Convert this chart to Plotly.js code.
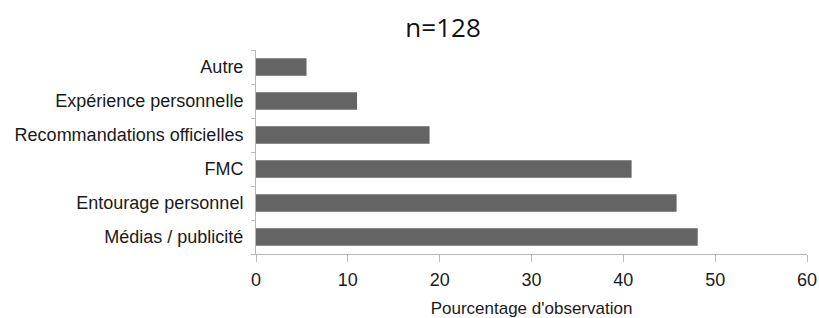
<!DOCTYPE html>
<html>
<head>
<meta charset="utf-8">
<script src="https://cdn.plot.ly/plotly-3.0.1.min.js"></script>
<style>html,body{margin:0;padding:0;background:#fff;}#chart{width:819px;height:318px;}</style>
</head>
<body>
<div id="chart"></div>
<script>
// Categories listed bottom to top
var categories = ['Médias / publicité', 'Entourage personnel', 'FMC', 'Recommandations officielles', 'Expérience personnelle', 'Autre'];
var percentages = [48.1, 45.8, 40.9, 18.9, 11.0, 5.5];
var xTickValues = [0, 10, 20, 30, 40, 50, 60];
var chartTitle = 'n=128';
var xAxisTitle = "Pourcentage d'observation";

var trace = {
  type: 'bar',
  orientation: 'h',
  x: percentages,
  y: categories,
  marker: {color: '#646464'},
  hoverinfo: 'x+y'
};

var layout = {
  width: 819,
  height: 318,
  margin: {l: 256, r: 12, t: 50, b: 64, pad: 0},
  paper_bgcolor: '#ffffff',
  plot_bgcolor: '#ffffff',
  bargap: 0.48,
  showlegend: false,
  font: {family: 'Liberation Sans, Arial, sans-serif', color: '#1a1a1a'},
  title: {
    text: chartTitle,
    font: {family: 'Open Sans, sans-serif', size: 26, color: '#111111'},
    xref: 'container', x: 0.541, xanchor: 'center',
    yref: 'container', y: 0.912, yanchor: 'middle'
  },
  xaxis: {
    range: [0, 60],
    tickvals: xTickValues,
    ticktext: xTickValues.map(String),
    showgrid: false,
    zeroline: false,
    showline: true,
    linecolor: '#b8b8b8',
    linewidth: 1,
    ticks: 'outside',
    ticklen: 7,
    tickcolor: '#b8b8b8',
    tickfont: {size: 18, color: '#1a1a1a'},
    ticklabelstandoff: 2,
    title: {text: xAxisTitle, font: {size: 17, color: '#1a1a1a'}, standoff: 17},
    automargin: false,
    fixedrange: true
  },
  yaxis: {
    type: 'category',
    categoryorder: 'array',
    categoryarray: categories,
    showgrid: false,
    zeroline: false,
    showline: true,
    linecolor: '#b8b8b8',
    linewidth: 1,
    ticks: 'outside',
    tickson: 'boundaries',
    ticklen: 4,
    tickcolor: '#b8b8b8',
    tickfont: {size: 18, color: '#1a1a1a'},
    ticklabelstandoff: 8,
    automargin: false,
    fixedrange: true
  }
};

Plotly.newPlot('chart', [trace], layout, {displayModeBar: false, staticPlot: true});
</script>
</body>
</html>
